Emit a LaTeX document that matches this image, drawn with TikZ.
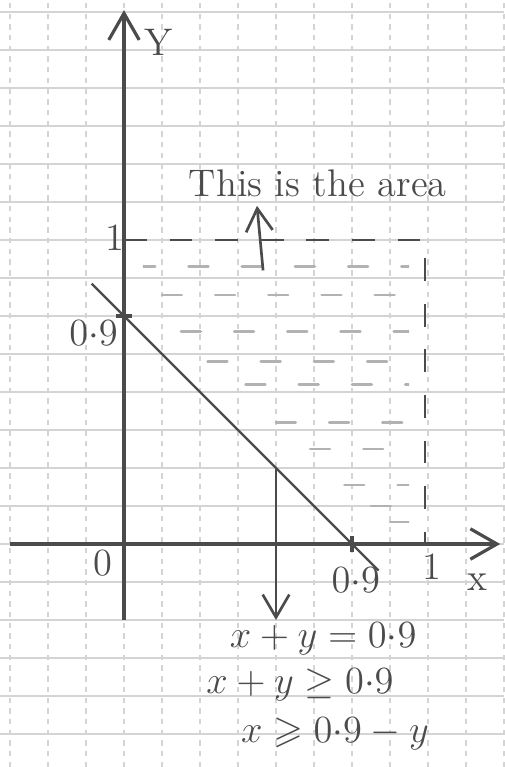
\documentclass[tikz,border=0pt]{standalone}
\usepackage{amsmath}
\usepackage{amssymb}
\usepackage{tikz}
\usetikzlibrary{arrows.meta, positioning}
\definecolor{pencil}{RGB}{75, 75, 75}
\definecolor{paperline}{RGB}{212, 212, 212}

\begin{document}
\begin{tikzpicture}[
    x=0.5cm, y=0.5cm,
    paper/.style={paperline, line width=0.5pt},
    axis/.style={-{Straight Barb[length=3.5mm, width=4mm]}, pencil, line width=1.2pt},
    pen/.style={pencil, line width=0.9pt},
    arrow/.style={-{Straight Barb[length=3mm, width=3.5mm]}, pencil, line width=1pt},
    boxline/.style={pencil, line width=1pt, dash pattern=on 3mm off 3mm},
    hatch/.style={gray!60, line width=1pt, line cap=round, dash pattern=on 2.6mm off 4.4mm},
    lbl/.style={pencil, font=\Large}
]
    \useasboundingbox (-3.263, -5.868) rectangle (10, 14.316);

    % Paper
    \foreach \gx in {-3,...,10}
        \draw[paper, dash pattern=on 2pt off 2pt] (\gx, -5.868) -- (\gx, 14.316);
    \foreach \gy in {-5,...,14}
        \draw[paper] (-3.263, \gy) -- (10, \gy);

    % Shaded region
    \begin{scope}
        \clip (0.5, 7.8) -- (7.5, 7.8) -- (7.5, 0.3) -- (6.6, 0.3) -- (0.5, 6.4) -- cycle;
        \foreach \ry/\off in {7.3/0.1, 6.55/0.45, 5.6/0.2, 4.8/0.55, 4.2/0.05, 3.2/0.35, 2.5/0.6, 1.55/0.15, 1.0/0.5, 0.58/0.25}
            \draw[hatch, dash phase=\off cm] (0.5, \ry) -- (7.5, \ry);
    \end{scope}

    % Axes
    \coordinate (O) at (0, 0);
    \coordinate (xs) at (-3, 0);
    \coordinate (xe) at (9.9, 0);
    \coordinate (ys) at (0, -2);
    \coordinate (ye) at (0, 14.05);
    \draw[axis] (xs) -- (xe);
    \draw[axis] (ys) -- (ye);

    % Boundary x = 1, y = 1
    \coordinate (yone) at (0, 8);
    \coordinate (corner) at (7.92, 8);
    \coordinate (xone) at (7.92, 0);
    \draw[boxline] (yone) -- (corner) -- (xone);

    % Line x + y = 0.9
    \coordinate (la) at (-0.85, 6.85);
    \coordinate (lb) at (6.7, -0.7);
    \draw[pen] (la) -- (lb);
    \coordinate (yint) at (0, 6);
    \coordinate (xint) at (6, 0);
    \draw[pen, line width=1.2pt] ([xshift=-3pt]yint) -- ([xshift=3pt]yint);
    \draw[pen, line width=1.2pt] ([yshift=-3pt]xint) -- ([yshift=3pt]xint);

    % Labels on axes
    \node[lbl] (ylab) at (0.9, 13.2) {Y};
    \node[lbl] (xlab) at (9.3, -1.0) {x};
    \node[lbl] (zero) at (-0.55, -0.5) {0};
    \node[lbl] (oney) at (-0.25, 8.05) {1};
    \node[lbl] (onex) at (8.1, -0.6) {1};
    \node[lbl] (ninex) at (6.1, -0.95) {$0{\cdot}9$};
    \node[lbl] (niney) at (-0.8, 5.55) {$0{\cdot}9$};

    % Area note
    \node[lbl] (area) at (5.1, 9.5) {This is the area};
    \coordinate (up) at (3.66, 7.2);
    \draw[arrow] (up) -- (3.5, 8.9);

    % Equations
    \coordinate (P) at (4, 2);
    \coordinate (down) at (4, -2);
    \draw[arrow] (P) -- (down);
    \node[lbl] (eqa) at (5.24, -2.5) {$x+y=0{\cdot}9$};
    \node[lbl] (eqb) at (4.63, -3.7) {$x+y\geq 0{\cdot}9$};
    \node[lbl] (eqc) at (5.55, -5.0) {$x\geqslant 0{\cdot}9-y$};
\end{tikzpicture}
\end{document}
